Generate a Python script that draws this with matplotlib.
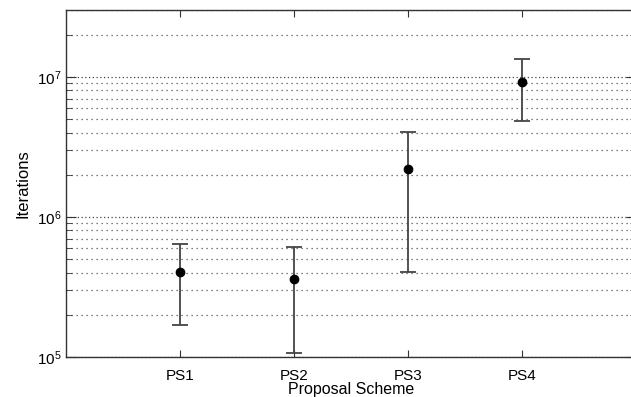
import matplotlib.pyplot as plt
import numpy as np

plt.rcParams['font.family'] = ['Liberation Sans', 'DejaVu Sans']
plt.rcParams['mathtext.fontset'] = 'custom'
plt.rcParams['mathtext.rm'] = 'Liberation Sans'

schemes = ['PS1', 'PS2', 'PS3', 'PS4']
x = np.arange(1, 5)
mean = np.array([4.05e5, 3.6e5, 2.2e6, 9.2e6])
upper = np.array([6.4e5, 6.1e5, 4.05e6, 1.34e7])
lower = np.array([1.69e5, 1.07e5, 4.05e5, 4.85e6])

fig = plt.figure(figsize=(6.31, 3.97), dpi=100)
ax = fig.add_axes([66 / 631, 40 / 397, 570 / 631, 347 / 397])

ax.set_yscale('log')
ax.set_ylim(1e5, 3e7)
ax.set_xlim(0, 5)

# griglia tratteggiata (maggiore e minore)
ax.grid(True, which='major', axis='y', linestyle=(0, (1, 2)), color='#444444', linewidth=0.9)
ax.grid(True, which='minor', axis='y', linestyle=(0, (1, 3)), color='#555555', linewidth=0.9)

ax.errorbar(x, mean, yerr=[mean - lower, upper - mean], fmt='o', color='black',
            ecolor='#444444', elinewidth=1.3, capsize=6, capthick=1.3, markersize=6,
            zorder=3)

ax.set_xticks(x)
ax.set_xticklabels(schemes)
ax.set_yticks([1e5, 1e6, 1e7])
ax.set_yticklabels([r'$\mathregular{10^{5}}$', r'$\mathregular{10^{6}}$', r'$\mathregular{10^{7}}$'])
ax.tick_params(axis='both', which='both', direction='in', top=True, right=True,
               labelsize=11, color='#333333')
ax.tick_params(axis='y', which='major', length=7)
ax.tick_params(axis='y', which='minor', length=4)
ax.tick_params(axis='x', length=5, pad=9)
for s in ax.spines.values():
    s.set_color('#333333')
    s.set_linewidth(1.0)

ax.set_xlabel('Proposal Scheme', fontsize=11.5, labelpad=-1)
ax.set_ylabel('Iterations', fontsize=12, labelpad=4)

plt.savefig('out.png', dpi=100)
